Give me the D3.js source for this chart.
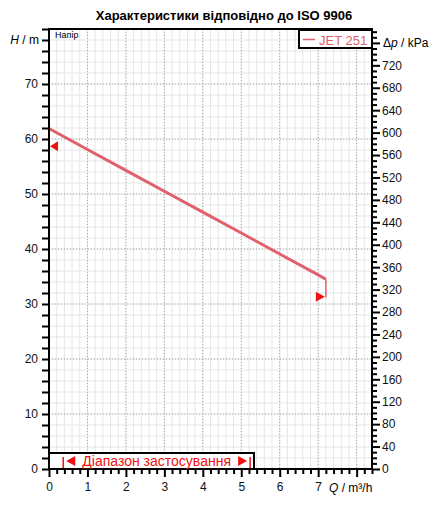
<!DOCTYPE html>
<html><head><meta charset="utf-8">
<script src="https://cdn.jsdelivr.net/npm/d3@7"></script>
<style>body{margin:0;background:#fff}svg{display:block;font-family:"Liberation Sans",Arial,sans-serif}</style>
</head><body>
<svg id="c" width="447" height="510"></svg>
<script>
const title = "Характеристики відповідно до ISO 9906";
const flowQ = [0, 1, 2, 3, 4, 5, 6, 7, 7.2];
const headH = [61.9, 58.1, 54.3, 50.5, 46.7, 42.9, 39.1, 35.3, 34.5];
const endDrop = [[7.2, 34.5], [7.2, 31.2]];
const leftMarker = [0, 58.7];
const rightMarker = [7.2, 31.3];
const xTickLabels = ["0","1","2","3","4","5","6","7"];
const yTickLabels = ["0","10","20","30","40","50","60","70"];
const rangeQ = [0.37, 5.23];
const seriesName = "JET 251";
const rangeLabel = "Діапазон застосування";
const KPA_PER_M = 9.81;

const svg = d3.select("#c");
const L = 49, R = 372, T = 29, B = 469;
const x = d3.scaleLinear().domain([0, 8.4]).range([L, R]);
const y = d3.scaleLinear().domain([0, 80]).range([B, T]);
const yR = d3.scaleLinear().domain([0, 80 * KPA_PER_M]).range([B, T]);
const red = "#e0606c";

// grid
const g = svg.append("g");
d3.range(0, 8.41, 0.2).forEach(q => {
  g.append("line").attr("x1", x(q)).attr("x2", x(q)).attr("y1", T).attr("y2", B).attr("stroke", "#e6e6e6").attr("stroke-width", 1);
});
d3.range(0, 80.1, 2).forEach(h => {
  g.append("line").attr("x1", L).attr("x2", R).attr("y1", y(h)).attr("y2", y(h)).attr("stroke", "#e6e6e6").attr("stroke-width", 1);
});
d3.range(1, 9).forEach(q => {
  g.append("line").attr("x1", x(q)).attr("x2", x(q)).attr("y1", T).attr("y2", B).attr("stroke", "#a8a8a8").attr("stroke-dasharray", "1,2");
});
d3.range(10, 80, 10).forEach(h => {
  g.append("line").attr("x1", L).attr("x2", R).attr("y1", y(h)).attr("y2", y(h)).attr("stroke", "#a8a8a8").attr("stroke-dasharray", "1,2");
});

// curve
const line = d3.line().x(d => x(d[0])).y(d => y(d[1]));
svg.append("path").datum(flowQ.map((q, i) => [q, headH[i]])).attr("d", line)
  .attr("fill", "none").attr("stroke", red).attr("stroke-width", 3);
svg.append("path").datum(endDrop).attr("d", line).attr("fill", "none").attr("stroke", red).attr("stroke-width", 1.5);

// markers
const lx = x(leftMarker[0]) + 1, ly = y(leftMarker[1]);
svg.append("path").attr("d", `M${lx},${ly} L${lx + 8},${ly - 5} L${lx + 8},${ly + 5} Z`).attr("fill", "#f01010");
const rx = x(rightMarker[0]) - 1, ry = y(rightMarker[1]);
svg.append("path").attr("d", `M${rx},${ry} L${rx - 9},${ry - 5} L${rx - 9},${ry + 5} Z`).attr("fill", "#f01010");

// frame
svg.append("rect").attr("x", L).attr("y", T).attr("width", R - L).attr("height", B - T)
  .attr("fill", "none").attr("stroke", "#000").attr("stroke-width", 2);

svg.append("text").attr("x", 55).attr("y", 38).attr("font-size", 9).text("Напір");

// left axis
const leftAx = d3.axisLeft(y).tickValues(d3.range(0, 80.1, 2)).tickSize(7).tickFormat(d => (d % 10 === 0 && d < 80) ? yTickLabels[d / 10] : "");
const la = svg.append("g").attr("transform", `translate(${L},0)`).call(leftAx);
la.select(".domain").remove();
la.selectAll("line").attr("stroke-width", 2);
la.selectAll("text").attr("font-size", 12).attr("fill", "#111").attr("dx", -1);
svg.append("text").attr("x", 39).attr("y", y(78) + 4).attr("text-anchor", "end").attr("font-size", 12)
  .html('<tspan font-style="italic">H</tspan> / m');

// right axis
const rightAx = d3.axisRight(yR).tickValues(d3.range(0, 781, 10)).tickSize(5).tickFormat(d => (d % 40 === 0 && d < 760) ? String(d) : "");
const ra = svg.append("g").attr("transform", `translate(${R},0)`).call(rightAx);
ra.select(".domain").remove();
ra.selectAll("line").attr("stroke-width", 2);
ra.selectAll(".tick").filter(d => d % 40 === 0).select("line").attr("x2", 8);
ra.selectAll("text").attr("font-size", 12).attr("fill", "#111").attr("x", 10);
svg.append("text").attr("x", 383).attr("y", yR(760) + 4).attr("font-size", 12)
  .html('Δ<tspan font-style="italic">p</tspan> / kPa');

// bottom axis
const botAx = d3.axisBottom(x).tickValues(d3.range(0, 8.41, 0.2).map(v => +v.toFixed(1))).tickSize(5)
  .tickFormat(d => (Number.isInteger(d) && d < 8) ? xTickLabels[d] : "");
const ba = svg.append("g").attr("transform", `translate(0,${B})`).call(botAx);
ba.select(".domain").remove();
ba.selectAll("line").attr("stroke-width", 2);
ba.selectAll(".tick").filter(d => Number.isInteger(d)).select("line").attr("y2", 8);
ba.selectAll("text").attr("font-size", 12).attr("fill", "#111").attr("y", 13);
svg.append("text").attr("x", 329).attr("y", 492).attr("font-size", 12)
  .html('<tspan font-style="italic">Q</tspan> / m³/h');

// legend
svg.append("rect").attr("x", 299).attr("y", 30).attr("width", 73).attr("height", 18).attr("fill", "#fff").attr("stroke", "#000").attr("stroke-width", 2);
svg.append("line").attr("x1", 303).attr("x2", 315).attr("y1", 39.5).attr("y2", 39.5).attr("stroke", red).attr("stroke-width", 1.5);
svg.append("text").attr("x", 319).attr("y", 44.5).attr("font-size", 13).attr("fill", red).text(seriesName);

// operating range box
svg.append("rect").attr("x", L).attr("y", 453).attr("width", 205).attr("height", B - 453).attr("fill", "#fff").attr("stroke", "#000").attr("stroke-width", 2);
const r0 = x(rangeQ[0]), r1 = x(rangeQ[1]);
svg.append("line").attr("x1", r0).attr("x2", r0).attr("y1", 457).attr("y2", 468).attr("stroke", "#f01010").attr("stroke-width", 1.5);
svg.append("line").attr("x1", r1).attr("x2", r1).attr("y1", 457).attr("y2", 468).attr("stroke", "#f01010").attr("stroke-width", 1.5);
svg.append("path").attr("d", `M${r0 + 3},461 L${r0 + 12},456 L${r0 + 12},466 Z`).attr("fill", "#f01010");
svg.append("path").attr("d", `M${r1 - 3},461 L${r1 - 12},456 L${r1 - 12},466 Z`).attr("fill", "#f01010");
svg.append("text").attr("x", (r0 + r1) / 2).attr("y", 466).attr("text-anchor", "middle").attr("font-size", 14).attr("fill", "#f01010").text(rangeLabel);

// title
svg.append("text").attr("x", 224).attr("y", 20).attr("text-anchor", "middle").attr("font-size", 13).attr("font-weight", "bold").text(title);
</script>
</body></html>
